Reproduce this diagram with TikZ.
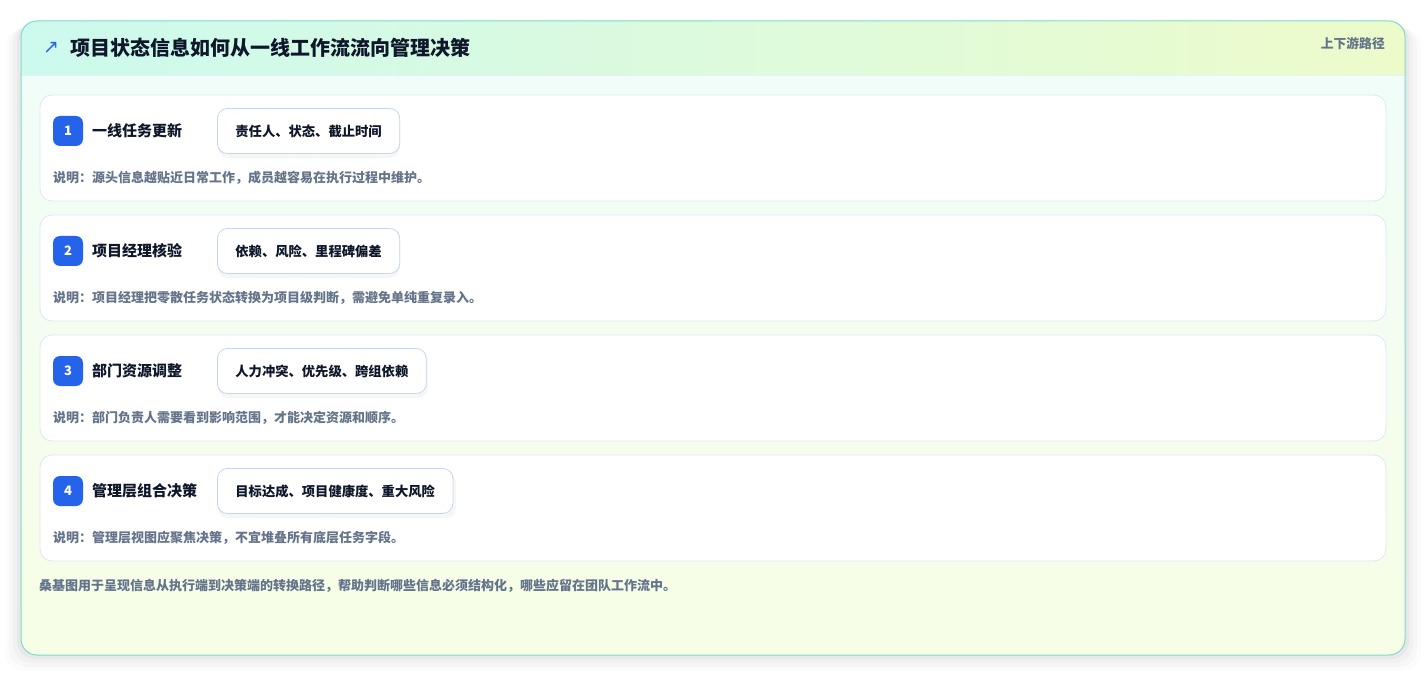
\documentclass[tikz,border=0pt]{standalone}
\usepackage{fontspec}
\setmainfont{Noto Sans CJK SC}
\newfontfamily\symfont{DejaVu Sans}
\usetikzlibrary{positioning}

\definecolor{edgeteal}{HTML}{7FDACB}
\definecolor{headleft}{HTML}{CCFAEE}
\definecolor{headright}{HTML}{EDFBCB}
\definecolor{bodytop}{HTML}{F0FDFA}
\definecolor{bodybottom}{HTML}{F7FEE6}
\definecolor{rowline}{HTML}{DCE8F5}
\definecolor{chipline}{HTML}{C3D6F2}
\definecolor{badgeblue}{HTML}{2563EB}
\definecolor{inkdark}{HTML}{0F172A}
\definecolor{inkgray}{HTML}{64748B}

\newcommand{\pxsize}[1]{\fontsize{#1pt}{#1pt}\selectfont}

\begin{document}
\begin{tikzpicture}[x=1pt, y=-1pt,
  rowcard/.style={draw=rowline, line width=0.8pt, fill=white, rounded corners=12pt},
  badge/.style={fill=badgeblue, text=white, rounded corners=7pt, minimum size=30pt,
    inner sep=0pt, font=\pxsize{13}\bfseries},
  steplabel/.style={anchor=west, inner sep=0pt, text=inkdark, font=\pxsize{15}\bfseries},
  chip/.style={draw=chipline, line width=0.8pt, fill=white, rounded corners=10pt,
    anchor=west, minimum height=45pt, inner xsep=18pt, inner ysep=0pt,
    text=inkdark, font=\pxsize{13.3}\bfseries},
  note/.style={anchor=west, inner sep=0pt, text=inkgray, font=\pxsize{13}\bfseries}
]
\useasboundingbox (0,0) rectangle (1426,676);
\fill[white] (0,0) rectangle (1426,676);

% soft shadow of the card
\foreach \s/\o in {16/0.012, 12/0.018, 8/0.025, 4/0.035}
  \fill[black, opacity=\o, rounded corners=18pt]
    (21-\s,21+\s/2) rectangle (1405+\s,655+\s);

% card body and header
\begin{scope}
  \clip[rounded corners=16pt] (21,21) rectangle (1405,655);
  \shade[top color=bodytop, bottom color=bodybottom] (21,21) rectangle (1405,655);
  \shade[left color=headleft, right color=headright] (21,21) rectangle (1405,75);
  \draw[rowline!70, line width=0.8pt] (21,75) -- (1405,75);
\end{scope}
\draw[edgeteal, line width=1pt, rounded corners=16pt] (21,21) rectangle (1405,655);

\node[inner sep=0pt, text=badgeblue, font=\symfont\pxsize{19}] (arrow) at (51,48) {↗};
\node[anchor=west, inner sep=0pt, text=inkdark, font=\pxsize{20}\bfseries] (title)
  at (70,48) {项目状态信息如何从一线工作流流向管理决策};
\node[anchor=east, inner sep=0pt, text=inkgray, font=\pxsize{12.8}\bfseries] (tag)
  at (1385,44) {上下游路径};

% step 1
\draw[rowcard] (40,95) rectangle (1386,201);
\node[badge] (b1) at (68,131) {1};
\node[steplabel] (l1) at (92,131) {一线任务更新};
\fill[black, opacity=0.035, rounded corners=10pt] (218,112) rectangle (400,158);
\node[chip] (c1) at (217,131) {责任人、状态、截止时间};
\node[note] (n1) at (53,178) {说明：源头信息越贴近日常工作，成员越容易在执行过程中维护。};

% step 2
\draw[rowcard] (40,215) rectangle (1386,321);
\node[badge] (b2) at (68,251) {2};
\node[steplabel] (l2) at (92,251) {项目经理核验};
\fill[black, opacity=0.035, rounded corners=10pt] (218,232) rectangle (400,278);
\node[chip] (c2) at (217,251) {依赖、风险、里程碑偏差};
\node[note] (n2) at (53,298) {说明：项目经理把零散任务状态转换为项目级判断，需避免单纯重复录入。};

% step 3
\draw[rowcard] (40,335) rectangle (1386,441);
\node[badge] (b3) at (68,371) {3};
\node[steplabel] (l3) at (92,371) {部门资源调整};
\fill[black, opacity=0.035, rounded corners=10pt] (218,352) rectangle (428,398);
\node[chip] (c3) at (217,371) {人力冲突、优先级、跨组依赖};
\node[note] (n3) at (53,418) {说明：部门负责人需要看到影响范围，才能决定资源和顺序。};

% step 4
\draw[rowcard] (40,455) rectangle (1386,561);
\node[badge] (b4) at (68,491) {4};
\node[steplabel] (l4) at (92,491) {管理层组合决策};
\fill[black, opacity=0.035, rounded corners=10pt] (218,472) rectangle (456,518);
\node[chip] (c4) at (217,491) {目标达成、项目健康度、重大风险};
\node[note] (n4) at (53,538) {说明：管理层视图应聚焦决策，不宜堆叠所有底层任务字段。};

\node[note] (foot) at (39,586)
  {桑基图用于呈现信息从执行端到决策端的转换路径，帮助判断哪些信息必须结构化，哪些应留在团队工作流中。};
\end{tikzpicture}
\end{document}
